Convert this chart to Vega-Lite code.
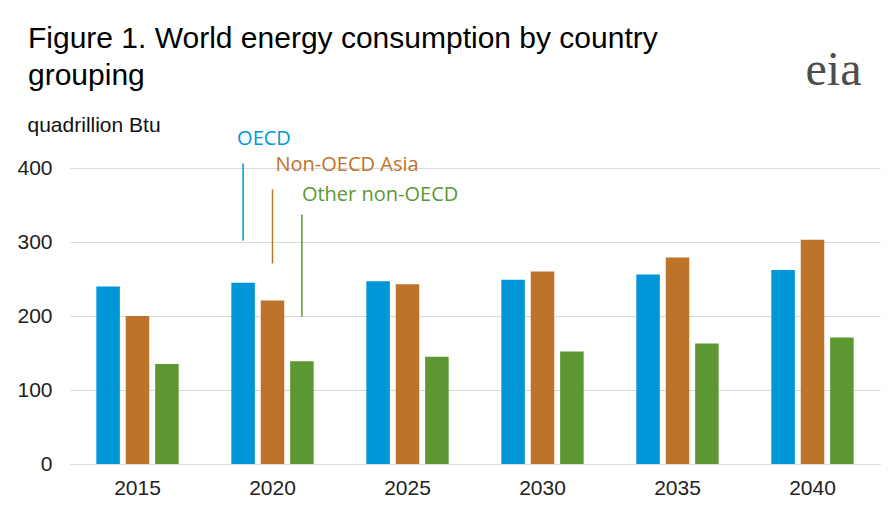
{
  "$schema": "https://vega.github.io/schema/vega-lite/v6.json",
  "width": 810,
  "height": 296,
  "autosize": {"type": "none"},
  "padding": {"left": 70, "top": 168, "right": 15, "bottom": 50},
  "background": "white",
  "title": {
    "text": ["Figure 1. World energy consumption by country", "grouping"],
    "font": "Liberation Sans",
    "fontSize": 30,
    "fontWeight": "normal",
    "color": "#000000",
    "anchor": "start",
    "frame": "group",
    "dx": -42,
    "offset": -44,
    "lineHeight": 37
  },
  "config": {
    "view": {"stroke": null},
    "font": "Liberation Sans"
  },
  "datasets": {
    "bars": [
      {"year": "2015", "series": "OECD", "value": 240},
      {"year": "2015", "series": "Non-OECD Asia", "value": 200},
      {"year": "2015", "series": "Other non-OECD", "value": 135},
      {"year": "2020", "series": "OECD", "value": 245},
      {"year": "2020", "series": "Non-OECD Asia", "value": 221},
      {"year": "2020", "series": "Other non-OECD", "value": 139},
      {"year": "2025", "series": "OECD", "value": 247},
      {"year": "2025", "series": "Non-OECD Asia", "value": 243},
      {"year": "2025", "series": "Other non-OECD", "value": 145},
      {"year": "2030", "series": "OECD", "value": 249},
      {"year": "2030", "series": "Non-OECD Asia", "value": 260},
      {"year": "2030", "series": "Other non-OECD", "value": 152},
      {"year": "2035", "series": "OECD", "value": 256},
      {"year": "2035", "series": "Non-OECD Asia", "value": 279},
      {"year": "2035", "series": "Other non-OECD", "value": 163},
      {"year": "2040", "series": "OECD", "value": 262},
      {"year": "2040", "series": "Non-OECD Asia", "value": 303},
      {"year": "2040", "series": "Other non-OECD", "value": 171}
    ],
    "notes": [
      {"year": "2020", "series": "OECD", "label": "OECD", "textY": 439, "top": 406, "bottom": 302},
      {"year": "2020", "series": "Non-OECD Asia", "label": "Non-OECD Asia", "textY": 404, "top": 371, "bottom": 271},
      {"year": "2020", "series": "Other non-OECD", "label": "Other non-OECD", "textY": 364, "top": 337, "bottom": 199}
    ],
    "logo": [
      {"year": "2040", "label": "eia", "value": 512}
    ]
  },
  "resolve": {"scale": {"xOffset": "shared", "color": "shared"}},
  "encoding": {
    "x": {
      "field": "year", "type": "nominal",
      "scale": {"paddingInner": 0.39, "paddingOuter": 0.195},
      "axis": {
        "title": null, "labelAngle": 0, "ticks": false,
        "domain": true, "domainColor": "#d9d9d9",
        "labelFontSize": 21, "labelPadding": 13, "labelColor": "#222222",
        "labelFont": "Liberation Sans"
      }
    }
  },
  "layer": [
    {
      "data": {"name": "bars"},
      "mark": {"type": "bar"},
      "encoding": {
        "xOffset": {
          "field": "series", "type": "nominal",
          "scale": {"domain": ["OECD", "Non-OECD Asia", "Other non-OECD"], "paddingInner": 0.2, "paddingOuter": 0}
        },
        "y": {
          "field": "value", "type": "quantitative",
          "scale": {"domain": [0, 400], "nice": false},
          "axis": {
            "values": [0, 100, 200, 300, 400],
            "grid": true, "gridColor": "#d9d9d9", "gridWidth": 1,
            "domain": false, "ticks": false,
            "labelFontSize": 21, "labelPadding": 18, "labelColor": "#222222",
            "labelFont": "Liberation Sans",
            "title": "quadrillion Btu",
            "titleAngle": 0, "titleX": -43, "titleY": -43,
            "titleAlign": "left", "titleBaseline": "middle",
            "titleFontSize": 21, "titleFontWeight": "normal",
            "titleColor": "#111111", "titleFont": "Liberation Sans"
          }
        },
        "color": {
          "field": "series", "type": "nominal",
          "scale": {
            "domain": ["OECD", "Non-OECD Asia", "Other non-OECD"],
            "range": ["#0096d7", "#bd732a", "#5d9732"]
          },
          "legend": null
        }
      }
    },
    {
      "data": {"name": "notes"},
      "transform": [{"filter": "datum.series === 'OECD'"}],
      "layer": [
        {
          "mark": {"type": "rule", "strokeWidth": 1.5, "xOffset": 2},
          "encoding": {
            "xOffset": {"field": "series", "type": "nominal"},
            "y": {"field": "top", "type": "quantitative"},
            "y2": {"field": "bottom"},
            "color": {"field": "series", "type": "nominal", "legend": null}
          }
        },
        {
          "mark": {"type": "text", "align": "left", "baseline": "middle", "dx": -6, "font": "Open Sans", "fontSize": 20},
          "encoding": {
            "xOffset": {"field": "series", "type": "nominal"},
            "y": {"field": "textY", "type": "quantitative"},
            "text": {"field": "label"},
            "color": {"field": "series", "type": "nominal", "legend": null}
          }
        }
      ]
    },
    {
      "data": {"name": "notes"},
      "transform": [{"filter": "datum.series === 'Non-OECD Asia'"}],
      "layer": [
        {
          "mark": {"type": "rule", "strokeWidth": 1.5, "xOffset": 8},
          "encoding": {
            "xOffset": {"field": "series", "type": "nominal"},
            "y": {"field": "top", "type": "quantitative"},
            "y2": {"field": "bottom"},
            "color": {"field": "series", "type": "nominal", "legend": null}
          }
        },
        {
          "mark": {"type": "text", "align": "left", "baseline": "middle", "dx": 3, "font": "Open Sans", "fontSize": 20},
          "encoding": {
            "xOffset": {"field": "series", "type": "nominal"},
            "y": {"field": "textY", "type": "quantitative"},
            "text": {"field": "label"},
            "color": {"field": "series", "type": "nominal", "legend": null}
          }
        }
      ]
    },
    {
      "data": {"name": "notes"},
      "transform": [{"filter": "datum.series === 'Other non-OECD'"}],
      "layer": [
        {
          "mark": {"type": "rule", "strokeWidth": 1.5, "xOffset": 6},
          "encoding": {
            "xOffset": {"field": "series", "type": "nominal"},
            "y": {"field": "top", "type": "quantitative"},
            "y2": {"field": "bottom"},
            "color": {"field": "series", "type": "nominal", "legend": null}
          }
        },
        {
          "mark": {"type": "text", "align": "left", "baseline": "middle", "dx": 0, "font": "Open Sans", "fontSize": 20},
          "encoding": {
            "xOffset": {"field": "series", "type": "nominal"},
            "y": {"field": "textY", "type": "quantitative"},
            "text": {"field": "label"},
            "color": {"field": "series", "type": "nominal", "legend": null}
          }
        }
      ]
    },
    {
      "data": {"name": "logo"},
      "mark": {"type": "text", "align": "center", "baseline": "alphabetic", "dx": 21, "font": "Liberation Serif", "fontSize": 48, "color": "#4d4d4d"},
      "encoding": {
        "y": {"field": "value", "type": "quantitative"},
        "text": {"field": "label"}
      }
    }
  ]
}
